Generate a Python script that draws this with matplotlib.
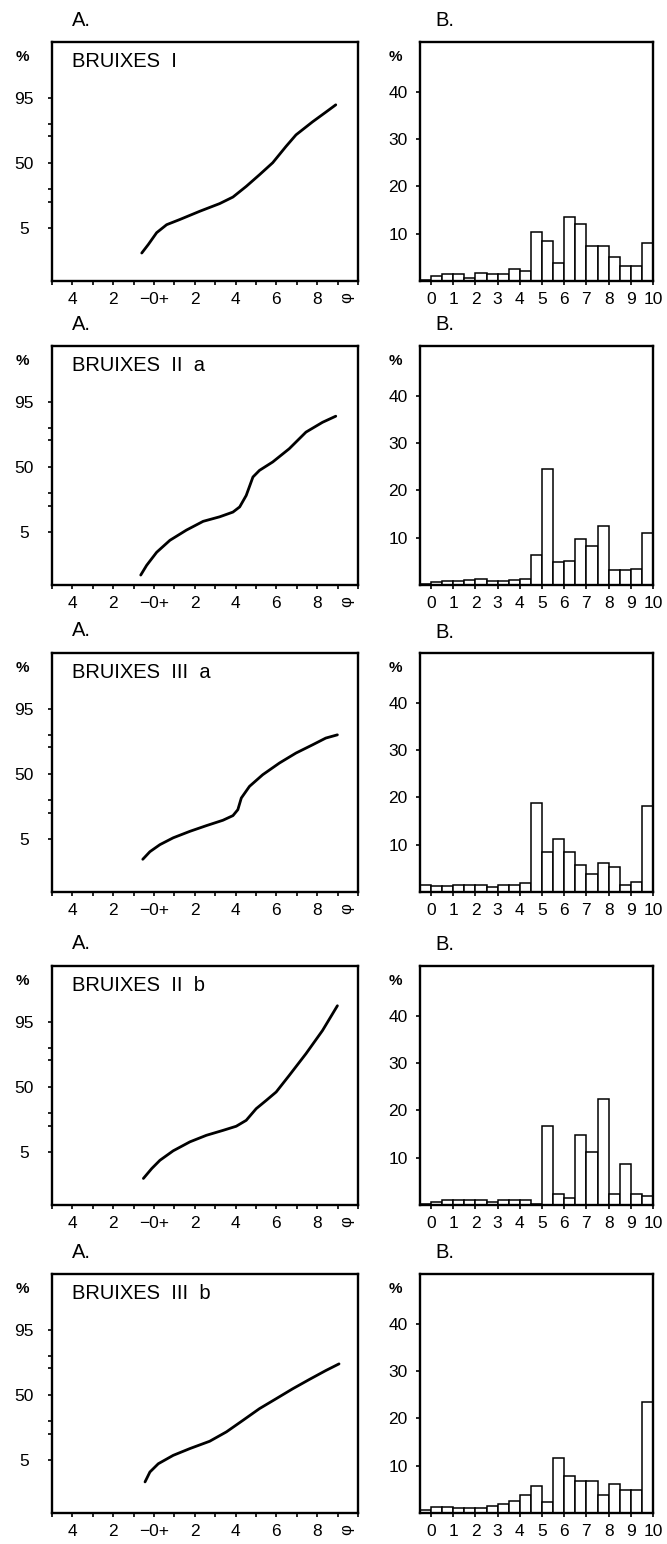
import math
import numpy as np
import matplotlib
matplotlib.use("Agg")
import matplotlib.pyplot as plt

plt.rcParams['font.family'] = ['Liberation Sans', 'DejaVu Sans']

# ---------------- data ----------------
titles = ["BRUIXES  I", "BRUIXES  II  a", "BRUIXES  III  a", "BRUIXES  II  b", "BRUIXES  III  b"]

# A. cumulative curves (phi, cumulative %)
phi_1 = [-0.6, -0.28, 0.13, 0.62, 1.27, 2.24, 3.22, 3.87, 4.52, 5.17, 5.82, 6.47, 6.96, 7.77, 8.42, 8.91]
cum_1 = [1.1, 1.9, 3.8, 5.8, 7.5, 10.9, 15.0, 19.2, 27.4, 38.0, 50.0, 66.0, 76.0, 85.0, 90.0, 92.9]

phi_2 = [-0.65, -0.36, 0.13, 0.78, 1.59, 2.41, 3.22, 3.87, 4.2, 4.52, 4.85, 5.17, 5.82, 6.63, 7.45, 8.26, 8.91]
cum_2 = [0.3, 0.62, 1.5, 3.1, 5.4, 8.3, 10.2, 12.5, 15.4, 23.3, 39.7, 46.3, 54.8, 67.6, 81.0, 87.0, 90.0]

phi_3 = [-0.55, -0.2, 0.29, 0.94, 1.76, 2.57, 3.38, 3.87, 4.11, 4.28, 4.68, 5.33, 6.15, 6.96, 7.77, 8.42, 8.99]
cum_3 = [1.5, 2.4, 3.6, 5.2, 7.2, 9.4, 11.9, 14.4, 18.1, 26.9, 37.4, 49.0, 60.7, 70.0, 76.8, 81.7, 83.8]

phi_4 = [-0.52, -0.11, 0.29, 0.94, 1.76, 2.57, 3.38, 4.03, 4.52, 5.01, 5.5, 5.99, 6.63, 7.45, 8.26, 8.99]
cum_4 = [1.0, 1.9, 3.1, 5.2, 8.1, 10.9, 13.4, 15.8, 19.7, 28.9, 36.4, 44.7, 61.3, 79.9, 92.3, 98.0]

phi_5 = [-0.44, -0.2, 0.21, 0.94, 1.76, 2.73, 3.55, 4.36, 5.17, 5.99, 6.8, 7.61, 8.42, 9.07]
cum_5 = [1.35, 2.5, 4.0, 6.2, 8.6, 11.9, 17.3, 25.8, 36.2, 46.0, 56.0, 65.0, 73.0, 78.3]

# B. histograms: half-phi classes starting at -0.5
class_left = np.arange(-0.5, 10.0, 0.5)
hist_1 = [0.3, 1.0, 1.4, 1.4, 0.6, 1.7, 1.4, 1.4, 2.5, 2.1, 10.3, 8.4, 3.9, 13.6, 12.1, 7.3, 7.3, 5.0, 3.2, 3.2, 8.1]
hist_2 = [0.3, 0.7, 0.9, 0.9, 1.1, 1.2, 0.9, 0.9, 1.1, 1.3, 6.3, 24.5, 4.9, 5.1, 9.7, 8.3, 12.4, 3.1, 3.1, 3.4, 10.9]
hist_3 = [1.4, 1.3, 1.3, 1.5, 1.4, 1.5, 1.0, 1.5, 1.5, 1.9, 18.8, 8.5, 11.3, 8.5, 5.7, 3.8, 6.2, 5.3, 1.4, 2.1, 18.1]
hist_4 = [0.2, 0.7, 1.1, 1.0, 1.0, 1.0, 0.7, 1.0, 1.0, 1.1, 0.2, 16.6, 2.4, 1.4, 14.8, 11.1, 22.3, 2.4, 8.6, 2.4, 1.9]
hist_5 = [0.7, 1.3, 1.3, 1.0, 1.0, 1.0, 1.5, 2.0, 2.5, 3.9, 5.7, 2.4, 11.7, 7.8, 6.7, 6.7, 3.8, 6.2, 4.8, 4.8, 23.5]

curves = [(phi_1, cum_1), (phi_2, cum_2), (phi_3, cum_3), (phi_4, cum_4), (phi_5, cum_5)]
hists = [hist_1, hist_2, hist_3, hist_4, hist_5]

a_xticks = [-4, -2, 0, 2, 4, 6, 8]
a_xticklabels = ["4", "2", "\u22120+", "2", "4", "6", "8"]
a_yticks = [5, 50, 95]
a_yminor = [16, 25, 75, 84]
b_yticks = [10, 20, 30, 40]
b_xticks = list(range(0, 11))

# ---------------- probability scale ----------------
_a = [-3.969683028665376e+01, 2.209460984245205e+02, -2.759285104469687e+02,
      1.383577518672690e+02, -3.066479806614716e+01, 2.506628277459239e+00]
_b = [-5.447609879822406e+01, 1.615858368580409e+02, -1.556989798598866e+02,
      6.680131188771972e+01, -1.328068155288572e+01]
_c = [-7.784894002430293e-03, -3.223964580411365e-01, -2.400758277161838e+00,
      -2.549671348283185e+00, 4.374664141464968e+00, 2.938163982698783e+00]
_d = [7.784695709041462e-03, 3.224671290700398e-01, 2.445134137142996e+00,
      3.754408661907416e+00]


def _ppf_scalar(p):
    p = min(max(p, 1e-9), 1 - 1e-9)
    plow = 0.02425
    if p < plow:
        q = math.sqrt(-2 * math.log(p))
        return (((((_c[0]*q+_c[1])*q+_c[2])*q+_c[3])*q+_c[4])*q+_c[5]) / \
               ((((_d[0]*q+_d[1])*q+_d[2])*q+_d[3])*q+1)
    if p > 1 - plow:
        q = math.sqrt(-2 * math.log(1 - p))
        return -(((((_c[0]*q+_c[1])*q+_c[2])*q+_c[3])*q+_c[4])*q+_c[5]) / \
                ((((_d[0]*q+_d[1])*q+_d[2])*q+_d[3])*q+1)
    q = p - 0.5
    r = q * q
    return (((((_a[0]*r+_a[1])*r+_a[2])*r+_a[3])*r+_a[4])*r+_a[5])*q / \
           (((((_b[0]*r+_b[1])*r+_b[2])*r+_b[3])*r+_b[4])*r+1)


def fwd(pct):
    arr = np.asarray(pct, dtype=float)
    out = np.array([_ppf_scalar(v / 100.0) if np.isfinite(v) else np.nan for v in arr.ravel()])
    return out.reshape(arr.shape)


def inv(z):
    arr = np.asarray(z, dtype=float)
    out = np.array([50.0 * (1 + math.erf(v / math.sqrt(2))) if np.isfinite(v) else np.nan
                    for v in arr.ravel()])
    return out.reshape(arr.shape)


# ---------------- layout ----------------
W, H = 667, 1544
fig = plt.figure(figsize=(W / 100, H / 100), dpi=100)
fig.patch.set_facecolor('white')

tops = [42, 346, 653, 966, 1274]
ph = 239
lx0, lx1 = 52, 358
rx0, rx1 = 420, 653

tick_fs = 12.5
lbl_fs = 14.5

for i in range(5):
    top = tops[i]
    bottom = H - top - ph
    # ---------- A panel ----------
    axA = fig.add_axes([lx0 / W, bottom / H, (lx1 - lx0) / W, ph / H])
    axA.set_yscale('function', functions=(fwd, inv))
    phi, cum = curves[i]
    axA.plot(phi, cum, color='black', lw=2.0, solid_capstyle='round',
             solid_joinstyle='round')
    axA.set_xlim(-5, 10)
    axA.set_ylim(0.135, 99.89)
    axA.set_xticks(a_xticks)
    axA.set_xticklabels(a_xticklabels, fontsize=tick_fs)
    axA.set_xticks(list(range(-5, 11)), minor=True)
    axA.set_yticks(a_yticks)
    axA.set_yticklabels([str(v) for v in a_yticks], fontsize=tick_fs, ha='center')
    axA.set_yticks(a_yminor, minor=True)
    axA.yaxis.set_minor_formatter(plt.NullFormatter())
    axA.tick_params(axis='both', which='both', direction='out', length=3, width=1.2)
    axA.tick_params(axis='x', which='major', pad=5)
    axA.tick_params(axis='y', which='major', pad=17)
    for s in axA.spines.values():
        s.set_linewidth(1.7)
    # phi symbol at end of x axis
    axA.text(9.45, -0.045, "\u03c6", transform=axA.get_xaxis_transform(),
             ha='center', va='top', fontsize=12, rotation=90)
    axA.text(0.066, 0.918, titles[i], transform=axA.transAxes, ha='left', va='center',
             fontsize=lbl_fs)
    fig.text(22 / W, 1 - (top + 15) / H, "%", ha='center', va='center',
             fontsize=11, fontweight='bold')
    fig.text(72 / W, 1 - (top - 22) / H, "A.", ha='left', va='center', fontsize=lbl_fs)

    # ---------- B panel ----------
    axB = fig.add_axes([rx0 / W, bottom / H, (rx1 - rx0) / W, ph / H])
    axB.bar(class_left, hists[i], width=0.5, align='edge', facecolor='white',
            edgecolor='black', linewidth=1.1)
    axB.set_xlim(-0.5, 10)
    axB.set_ylim(0, 50.5)
    axB.set_xticks(b_xticks)
    axB.set_xticklabels([str(v) for v in b_xticks], fontsize=tick_fs)
    axB.set_yticks(b_yticks)
    axB.set_yticklabels([str(v) for v in b_yticks], fontsize=tick_fs)
    axB.tick_params(axis='both', which='both', direction='out', length=3, width=1.2)
    axB.tick_params(axis='x', pad=5)
    axB.tick_params(axis='y', pad=6)
    for s in axB.spines.values():
        s.set_linewidth(1.7)
    fig.text(395 / W, 1 - (top + 15) / H, "%", ha='center', va='center',
             fontsize=11, fontweight='bold')
    fig.text(435 / W, 1 - (top - 21) / H, "B.", ha='left', va='center', fontsize=lbl_fs)

fig.savefig("out.png", dpi=100, facecolor='white')
